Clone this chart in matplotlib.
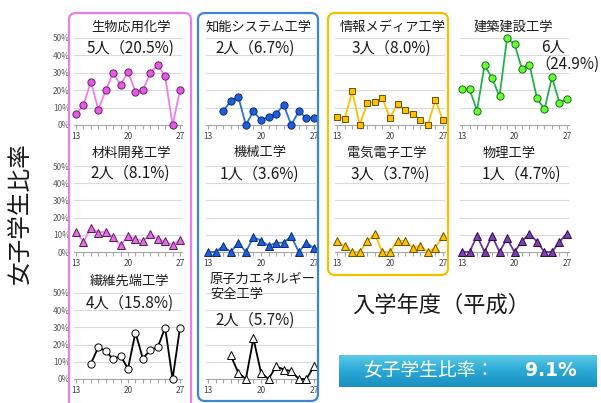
import matplotlib
matplotlib.use('Agg')
import matplotlib.pyplot as plt
import numpy as np
from matplotlib.patches import FancyBboxPatch
from matplotlib.transforms import IdentityTransform
from matplotlib.colors import LinearSegmentedColormap

plt.rcParams['font.family'] = ['Noto Sans CJK JP', 'DejaVu Sans']

# ---------------- data (女子学生比率, %) ----------------
years_13 = list(range(13, 28))
years_15 = list(range(15, 28))
years_16 = list(range(16, 28))

bio_vals      = [6.2, 11.4, 24.9, 8.9, 19.9, 29.9, 23.0, 30.5, 19.1, 19.9, 29.9, 34.4, 28.0, 0.0, 19.9]
chino_vals    = [7.9, 13.9, 16.2, 0.0, 7.9, 2.7, 4.6, 6.4, 11.6, 0.0, 7.9, 4.0, 3.9]
joho_vals     = [4.7, 3.3, 19.3, 0.0, 12.6, 13.4, 15.3, 4.0, 12.3, 8.6, 6.4, 3.0, 0.0, 14.4, 2.8]
kenchiku_vals = [20.6, 20.6, 8.3, 34.5, 27.0, 16.4, 49.8, 46.6, 32.0, 34.7, 15.3, 9.0, 27.4, 12.8, 14.7]
zairyo_vals   = [11.9, 5.8, 14.2, 11.3, 11.9, 8.5, 3.8, 9.4, 7.7, 6.5, 10.4, 7.7, 6.2, 4.2, 7.1]
kikai_vals    = [0.0, 0.0, 3.4, 0.0, 5.5, 0.0, 8.7, 6.6, 3.6, 5.3, 5.5, 9.1, 0.0, 5.5, 2.1]
denki_vals    = [6.3, 3.4, 0.0, 0.0, 6.3, 10.3, 0.0, 0.0, 6.6, 6.6, 2.5, 3.6, 0.0, 2.5, 9.3]
butsuri_vals  = [0.0, 0.0, 9.4, 0.0, 9.4, 0.0, 7.9, 0.0, 6.4, 10.5, 6.0, 0.0, 0.0, 6.0, 10.7]
seni_vals     = [8.9, 18.5, 16.3, 11.5, 13.4, 6.0, 27.0, 11.9, 16.9, 18.5, 29.8, 0.0, 29.8]
genshi_vals   = [13.7, 3.6, 0.0, 23.6, 3.6, 0.0, 7.4, 5.5, 4.6, 0.0, 0.0, 7.4]

titles = ['生物応用化学', '知能システム工学', '情報メディア工学', '建築建設工学',
          '材料開発工学', '機械工学', '電気電子工学', '物理工学',
          '繊維先端工学', '原子力エネルギー\n安全工学']
counts = ['5人（20.5%)', '2人（6.7%)', '3人（8.0%)', '6人',
          '2人（8.1%)', '1人（3.6%)', '3人（3.7%)', '1人（4.7%)',
          '4人（15.8%)', '2人（5.7%)']
kenchiku_pct = '（24.9%)'
y_ticks = [0, 10, 20, 30, 40, 50]
y_labels = ['0%', '10%', '20%', '30%', '40%', '50%']
x_labels = [13, 20, 27]
overall_label = '女子学生比率：'
overall_value = '9.1%'

W, H = 601, 403
fig = plt.figure(figsize=(W / 100, H / 100), dpi=100)
fig.patch.set_facecolor('white')


def rect(x0, y0, x1, y1):
    return [x0 / W, 1 - y1 / H, (x1 - x0) / W, (y1 - y0) / H]


def ftxt(x, y, s, **kw):
    fig.text(x / W, 1 - y / H, s, **kw)


cols = [(74, 182), (206, 316), (335, 445), (460, 569)]
rows = [(38, 125), (166, 252), (293, 379)]

panels = [
    # (years, vals, col, row, line colour, marker, face, edge)
    (years_13, bio_vals, 0, 0, '#f07cf0', 'o', '#e35be3', '#6a1f6a'),
    (years_15, chino_vals, 1, 0, '#2a6fdb', 'o', '#1f5fd6', '#0a2a80'),
    (years_13, joho_vals, 2, 0, '#ffc000', 's', '#ffc000', '#6b4f00'),
    (years_13, kenchiku_vals, 3, 0, '#22b14c', 'o', '#66ff33', '#1a6b1a'),
    (years_13, zairyo_vals, 0, 1, '#f08cf0', '^', '#e070e0', '#5a1a5a'),
    (years_13, kikai_vals, 1, 1, '#2a6fdb', '^', '#1f5fd6', '#0a2a80'),
    (years_13, denki_vals, 2, 1, '#ffc000', '^', '#ffc000', '#6b4f00'),
    (years_13, butsuri_vals, 3, 1, '#7030a0', '^', '#7b3fb0', '#2e0a4a'),
    (years_15, seni_vals, 0, 2, '#000000', 'o', '#ffffff', '#000000'),
    (years_16, genshi_vals, 1, 2, '#000000', '^', '#ffffff', '#000000'),
]

for yrs, vals, c, r, lc, mk, mf, me in panels:
    x0, x1 = cols[c]
    y0, y1 = rows[r]
    ax = fig.add_axes(rect(x0, y0, x1, y1))
    ax.set_facecolor('none')
    ax.set_xlim(12.73, 27.27)
    ax.set_ylim(0, 50)
    for g in y_ticks[1:]:
        ax.axhline(g, color='#d9d9d9', lw=0.8, zorder=0)
    for s in ['top', 'right', 'left']:
        ax.spines[s].set_visible(False)
    ax.spines['bottom'].set_color('#a6a6a6')
    ax.spines['bottom'].set_linewidth(0.8)
    ax.set_xticks(years_13)
    ax.set_xticklabels([str(v) if v in x_labels else '' for v in years_13])
    ax.tick_params(axis='x', length=3, color='#a6a6a6', labelsize=6,
                   labelcolor='#404040', pad=2)
    ax.set_yticks(y_ticks)
    if c == 0:
        ax.set_yticklabels(y_labels)
        ax.tick_params(axis='y', length=0, labelsize=6, labelcolor='#595959', pad=3)
    else:
        ax.set_yticklabels([])
        ax.tick_params(axis='y', length=0)
    ms = 5.2 if mk == 'o' else (5.0 if mk == 's' else 6.0)
    ax.plot(yrs, vals, color=lc, lw=1.3, marker=mk, ms=ms, mfc=mf, mec=me,
            mew=0.7, clip_on=False, zorder=3)

# panel titles and counts
title_pos = [(131, 27), (259, 27), (393, 27), (513, 27),
             (131, 153), (260, 153), (387, 153), (509, 153),
             (129, 281)]
count_pos = [(131, 48), (255, 48), (391, 48), None,
             (130, 173), (259, 174), (390, 174), (521, 174),
             (130, 303)]
for i, (tx, ty) in enumerate(title_pos):
    ftxt(tx, ty, titles[i], ha='center', va='center', fontsize=9.5, color='#1a1a1a')
    if count_pos[i] is not None:
        cx, cy = count_pos[i]
        ftxt(cx, cy, counts[i], ha='center', va='center', fontsize=11, color='#1a1a1a')

# 建築建設工学 count (two lines)
ftxt(553, 47, counts[3], ha='center', va='center', fontsize=11, color='#1a1a1a')
ftxt(599, 64, kenchiku_pct, ha='right', va='center', fontsize=11, color='#1a1a1a')

# 原子力エネルギー安全工学
ftxt(210, 287, titles[9], ha='left', va='center', fontsize=9.5, color='#1a1a1a',
     linespacing=1.15)
ftxt(255, 320, counts[9], ha='center', va='center', fontsize=11, color='#1a1a1a')

# group frames
frames = [
    (69, 13, 191, 412, '#e87ee8'),
    (198, 13, 318, 401, '#3d85d8'),
    (328, 13, 448, 275, '#f5c000'),
]
for x0, y0, x1, y1, col in frames:
    p = FancyBboxPatch((x0, H - y1), x1 - x0, y1 - y0,
                       boxstyle='round,pad=0,rounding_size=7',
                       transform=IdentityTransform(), fill=False,
                       edgecolor=col, lw=1.6)
    fig.patches.append(p)

# axis labels
ftxt(20, 213, '女子学生比率', rotation=90, ha='center', va='center', fontsize=17,
     color='#1a1a1a')
ftxt(441, 305, '入学年度（平成）', ha='center', va='center', fontsize=16, color='#1a1a1a')

# overall ratio box with gradient
bax = fig.add_axes(rect(339, 355, 597, 387))
grad = np.linspace(0, 1, 64).reshape(-1, 1)
cmap = LinearSegmentedColormap.from_list('cy', ['#5cc9e6', '#2aa8d6', '#1b8fc0'])
bax.imshow(grad, aspect='auto', cmap=cmap, extent=[0, 1, 0, 1], origin='upper')
bax.set_xlim(0, 1)
bax.set_ylim(0, 1)
bax.axis('off')
ftxt(363, 371, overall_label, ha='left', va='center', fontsize=13.5, color='white')
ftxt(551, 371, overall_value, ha='center', va='center', fontsize=13.5, color='white',
     fontweight='bold', family=['DejaVu Sans'])

fig.savefig('out.png', dpi=100, facecolor='white')
